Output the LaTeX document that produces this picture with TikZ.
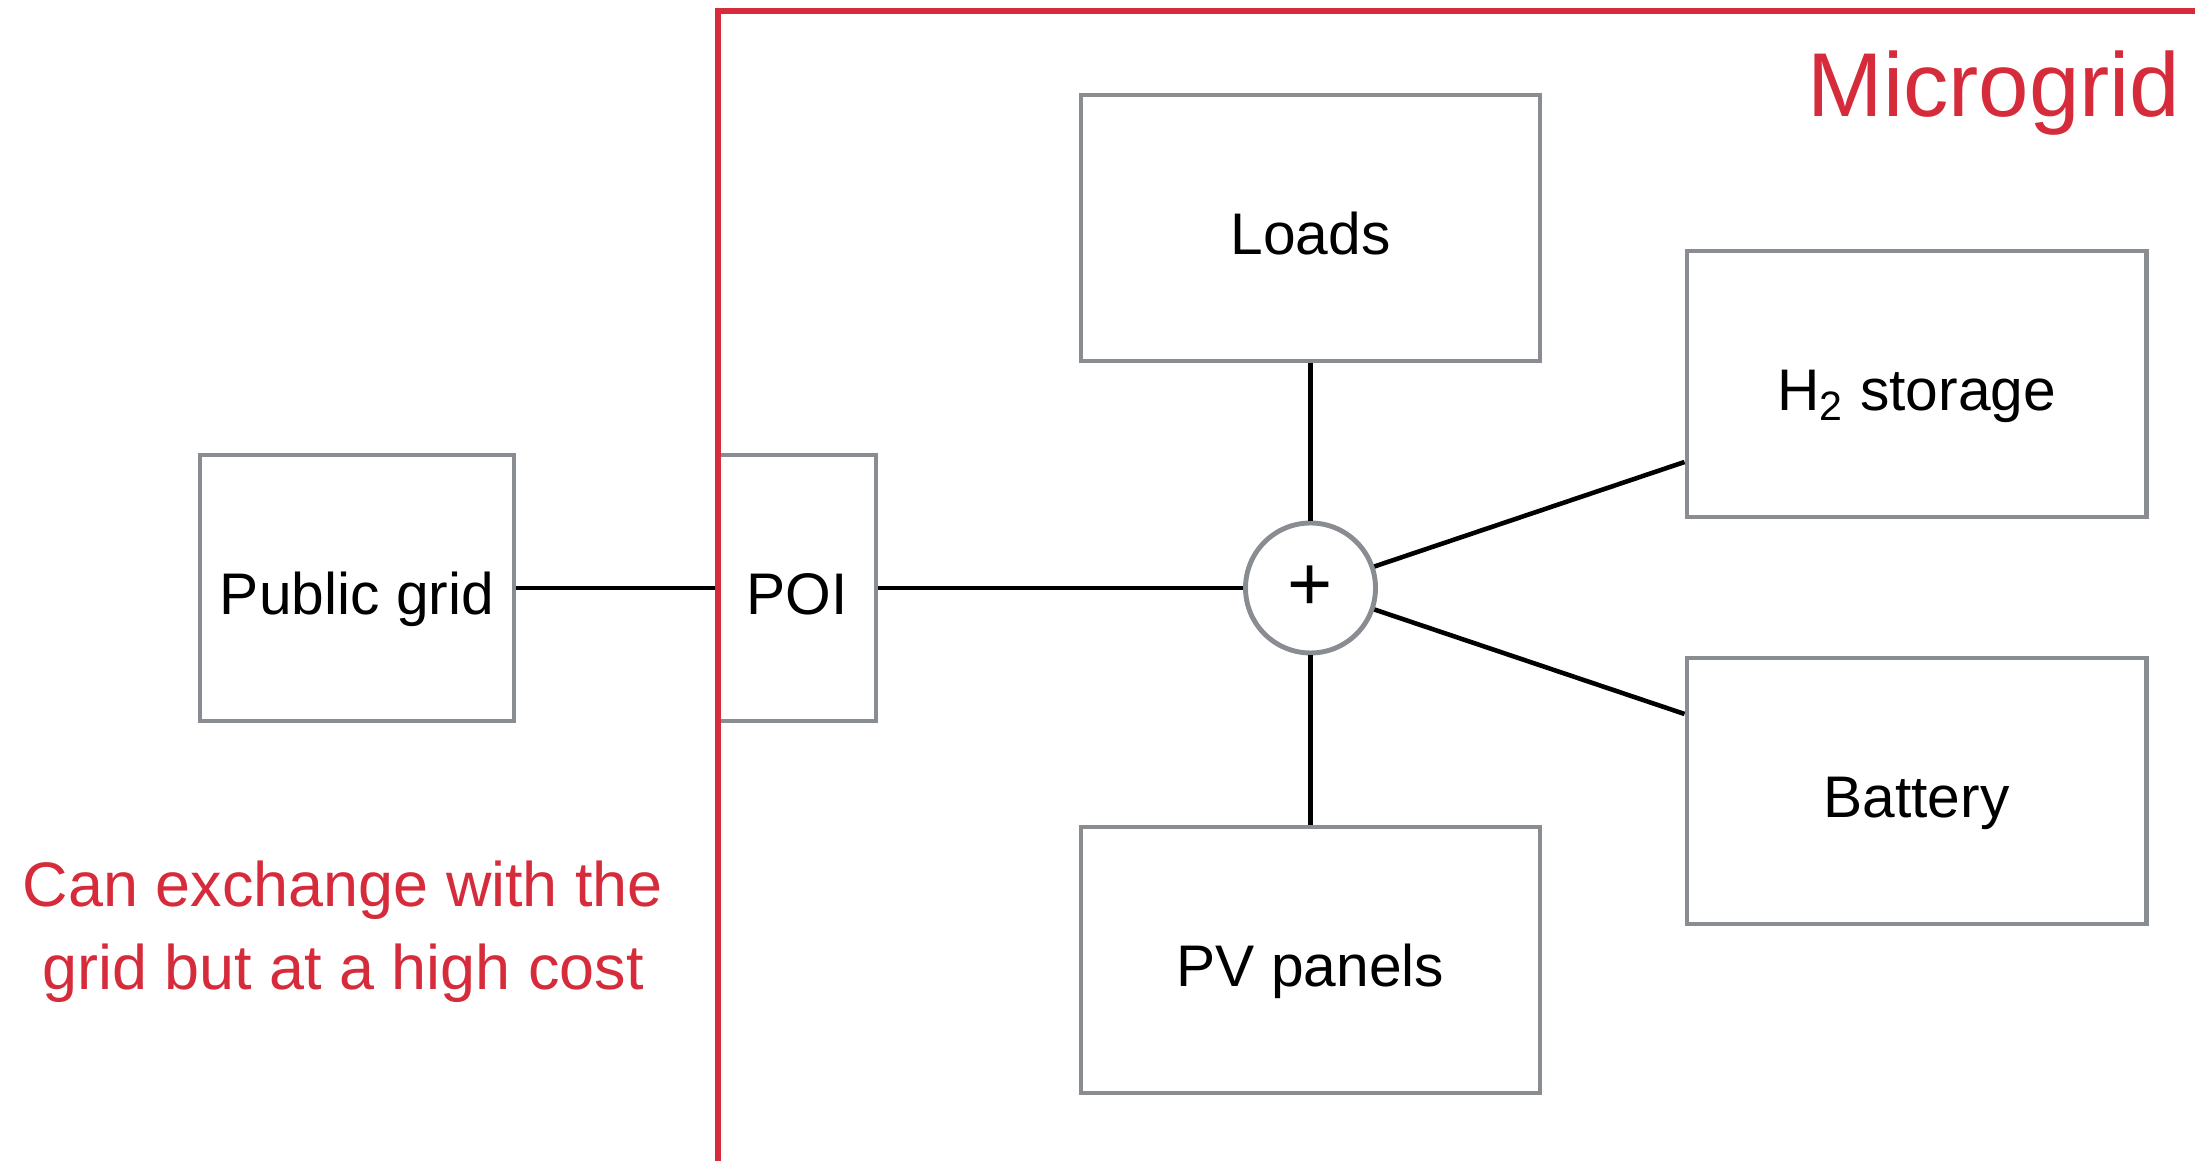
\documentclass[tikz,border=0pt]{standalone}
\usepackage{fontspec}
\setmainfont{Liberation Sans}
\usetikzlibrary{positioning}
\definecolor{mgred}{RGB}{213,43,58}
\definecolor{boxgray}{RGB}{137,140,145}
\tikzset{
  unit/.style={draw=boxgray,line width=1.4pt,minimum width=4.59cm,minimum height=2.66cm,text height=0.54cm,text depth=0pt,font=\fontsize{16.7}{20}\selectfont},
  sumnode/.style={circle,draw=boxgray,line width=1.4pt,minimum size=1.3cm,inner sep=0pt,font=\fontsize{22}{26}\selectfont},
  wire/.style={line width=1.3pt,black}
}

\begin{document}
\begin{tikzpicture}
\useasboundingbox (0,0) rectangle (21.95,11.61);
\node[unit] (loads) at (13.105,9.33) {Loads};
\node[unit] (pv) at (13.105,2.01) {PV panels};
\node[unit] (h2) at (19.165,7.77) {H\textsubscript{2} storage};
\node[unit] (battery) at (19.165,3.70) {Battery};
\node[unit,minimum width=3.14cm] (public) at (3.57,5.73) {Public grid};
\node[unit,minimum width=1.58cm] (poi) at (7.97,5.73) {POI};
\node[sumnode] (plus) at (13.105,5.73) {+};
\draw[wire] (public) -- (poi);
\draw[wire] (poi) -- (plus);
\draw[wire] (plus) -- (loads);
\draw[wire] (plus) -- (pv);
\draw[wire] (plus) -- ([yshift=-0.78cm]h2.west);
\draw[wire] (plus) -- ([yshift=0.77cm]battery.west);
% microgrid boundary
\draw[mgred,line width=1.7pt] (7.18,0) |- (21.95,11.50);
\node[mgred,anchor=base east,inner sep=0pt,font=\fontsize{25.8}{30}\selectfont] (mglabel) at (21.81,10.44) {Microgrid};
\node[mgred,anchor=north,align=center,inner sep=0pt,font=\fontsize{17.9}{23.6}\selectfont] (costnote) at (3.43,3.01) {Can exchange with the\\grid but at a high cost};
\end{tikzpicture}
\end{document}
